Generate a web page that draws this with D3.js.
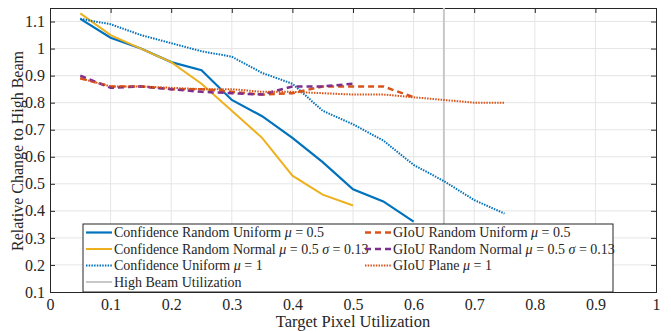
<!DOCTYPE html>
<html>
<head>
<meta charset="utf-8">
<script src="https://cdn.jsdelivr.net/npm/d3@7"></script>
<style>
  body { margin: 0; background: #fff; }
  svg text { font-family: 'Liberation Serif', serif; }
</style>
</head>
<body>
<div id="chart"></div>
<script>
// x positions shared by all series
const xs = [0.05, 0.1, 0.15, 0.2, 0.25, 0.3, 0.35, 0.4, 0.45, 0.5, 0.55, 0.6, 0.65, 0.7, 0.75];

const confRandUniform = [1.11, 1.04, 1.00, 0.95, 0.92, 0.81, 0.75, 0.67, 0.58, 0.48, 0.435, 0.36];
const confRandNormal  = [1.13, 1.05, 1.00, 0.95, 0.87, 0.77, 0.67, 0.53, 0.46, 0.42];
const confUniform     = [1.11, 1.09, 1.05, 1.02, 0.99, 0.97, 0.91, 0.87, 0.77, 0.72, 0.66, 0.57, 0.51, 0.44, 0.39];
const giouRandUniform = [0.89, 0.86, 0.86, 0.85, 0.85, 0.84, 0.83, 0.835, 0.86, 0.86, 0.86, 0.82];
const giouRandNormal  = [0.90, 0.855, 0.86, 0.85, 0.84, 0.835, 0.83, 0.86, 0.86, 0.87];
const giouPlane       = [0.89, 0.86, 0.86, 0.855, 0.85, 0.85, 0.84, 0.84, 0.835, 0.83, 0.83, 0.82, 0.81, 0.80, 0.80];

const highBeamX = 0.65;

const xTicks = [0, 0.1, 0.2, 0.3, 0.4, 0.5, 0.6, 0.7, 0.8, 0.9, 1];
const yTicks = [0.1, 0.2, 0.3, 0.4, 0.5, 0.6, 0.7, 0.8, 0.9, 1, 1.1];

const series = [
  {name: 'Confidence Random Uniform', math: [['μ', true], [' = 0.5', false]], values: confRandUniform, color: '#0072BD', dash: null, width: 2.2},
  {name: 'Confidence Random Normal', math: [['μ', true], [' = 0.5 ', false], ['σ', true], [' = 0.13', false]], values: confRandNormal, color: '#EDB120', dash: null, width: 2},
  {name: 'Confidence Uniform', math: [['μ', true], [' = 1', false]], values: confUniform, color: '#0072BD', dash: '1.5,1.2', width: 2},
  {name: 'GIoU Random Uniform', math: [['μ', true], [' = 0.5', false]], values: giouRandUniform, color: '#D95319', dash: '6,4', width: 2.5},
  {name: 'GIoU Random Normal', math: [['μ', true], [' = 0.5 ', false], ['σ', true], [' = 0.13', false]], values: giouRandNormal, color: '#7E2F8E', dash: '6,4', width: 2.5},
  {name: 'GIoU Plane', math: [['μ', true], [' = 1', false]], values: giouPlane, color: '#D95319', dash: '1.5,1.2', width: 2}
];

const W = 671, H = 331;
const margin = {top: 8, right: 15, bottom: 39, left: 50};
const width = W - margin.left - margin.right;
const height = H - margin.top - margin.bottom;

const svg = d3.select('#chart').append('svg')
    .attr('width', W)
    .attr('height', H);

const g = svg.append('g')
    .attr('transform', `translate(${margin.left},${margin.top})`);

const x = d3.scaleLinear().domain([0, 1]).range([0, width]);
const y = d3.scaleLinear().domain([0.1, 1.15]).range([height, 0]);

// grid
g.append('g').selectAll('line')
  .data(xTicks.slice(1, -1))
  .join('line')
    .attr('x1', d => x(d)).attr('x2', d => x(d))
    .attr('y1', 0).attr('y2', height)
    .attr('stroke', '#e5e5e5').attr('stroke-width', 1);
g.append('g').selectAll('line')
  .data(yTicks.slice(1))
  .join('line')
    .attr('y1', d => y(d)).attr('y2', d => y(d))
    .attr('x1', 0).attr('x2', width)
    .attr('stroke', '#e5e5e5').attr('stroke-width', 1);

// axes with inward ticks
const fmt = d => d === 0 ? '0' : (d === 1 ? '1' : d3.format('.1f')(d));
const xAxis = g.append('g')
    .attr('transform', `translate(0,${height})`)
    .call(d3.axisBottom(x).tickValues(xTicks).tickSize(-5).tickPadding(7).tickFormat(fmt));
const yAxis = g.append('g')
    .call(d3.axisLeft(y).tickValues(yTicks).tickSize(-5).tickPadding(5).tickFormat(fmt));
g.append('g')
    .call(d3.axisTop(x).tickValues(xTicks).tickSize(-5).tickFormat(''));
g.append('g')
    .attr('transform', `translate(${width},0)`)
    .call(d3.axisRight(y).tickValues(yTicks).tickSize(-5).tickFormat(''));

g.selectAll('.domain').attr('stroke', '#262626');
g.selectAll('.tick line').attr('stroke', '#262626');
g.selectAll('g').attr('font-family', null).attr('font-size', null);
g.selectAll('.tick text').attr('fill', '#262626').style('font-size', '16px');

// high beam utilization line
g.append('line')
    .attr('x1', x(highBeamX)).attr('x2', x(highBeamX))
    .attr('y1', 0).attr('y2', height)
    .attr('stroke', '#c8c8c8').attr('stroke-width', 2);

// series lines
const line = d3.line()
    .x((d, i) => x(xs[i]))
    .y(d => y(d));

series.forEach(s => {
  g.append('path')
      .datum(s.values)
      .attr('fill', 'none')
      .attr('stroke', s.color)
      .attr('stroke-width', s.width)
      .attr('stroke-dasharray', s.dash)
      .attr('d', line);
});

// labels
svg.append('text')
    .attr('x', margin.left + width / 2)
    .attr('y', H - 4)
    .attr('text-anchor', 'middle')
    .style('font-size', '16.5px')
    .attr('fill', '#262626')
    .text('Target Pixel Utilization');
svg.append('text')
    .attr('transform', `translate(23,${margin.top + height / 2 + 1}) rotate(-90)`)
    .attr('text-anchor', 'middle')
    .style('font-size', '16px')
    .attr('fill', '#262626')
    .text('Relative Change to High Beam');

// legend
const legend = g.append('g');
const lgX0 = 33, lgY0 = 216, lgW = 530, lgH = 68;
legend.append('rect')
    .attr('x', lgX0).attr('y', lgY0)
    .attr('width', lgW).attr('height', lgH)
    .attr('fill', '#fff').attr('stroke', '#262626').attr('stroke-width', 1);

const legendItems = [
  series[0], series[3],
  series[1], series[4],
  series[2], series[5],
  {name: 'High Beam Utilization', math: [], color: '#c8c8c8', dash: null, width: 2}
];
const colX = [36, 315];
const rowY = [224.5, 241, 257.5, 274];

legendItems.forEach((s, i) => {
  const cx = colX[i % 2], cy = rowY[Math.floor(i / 2)];
  legend.append('line')
      .attr('x1', cx).attr('x2', cx + 26)
      .attr('y1', cy).attr('y2', cy)
      .attr('stroke', s.color)
      .attr('stroke-width', s.width)
      .attr('stroke-dasharray', s.dash);
  const t = legend.append('text')
      .attr('x', cx + 28).attr('y', cy)
      .attr('dy', '0.33em')
      .style('font-size', '14px')
      .attr('fill', '#262626');
  t.append('tspan').text(s.name + (s.math.length ? ' ' : ''));
  s.math.forEach(([txt, it]) => {
    t.append('tspan').attr('font-style', it ? 'italic' : 'normal').text(txt);
  });
});
</script>
</body>
</html>
